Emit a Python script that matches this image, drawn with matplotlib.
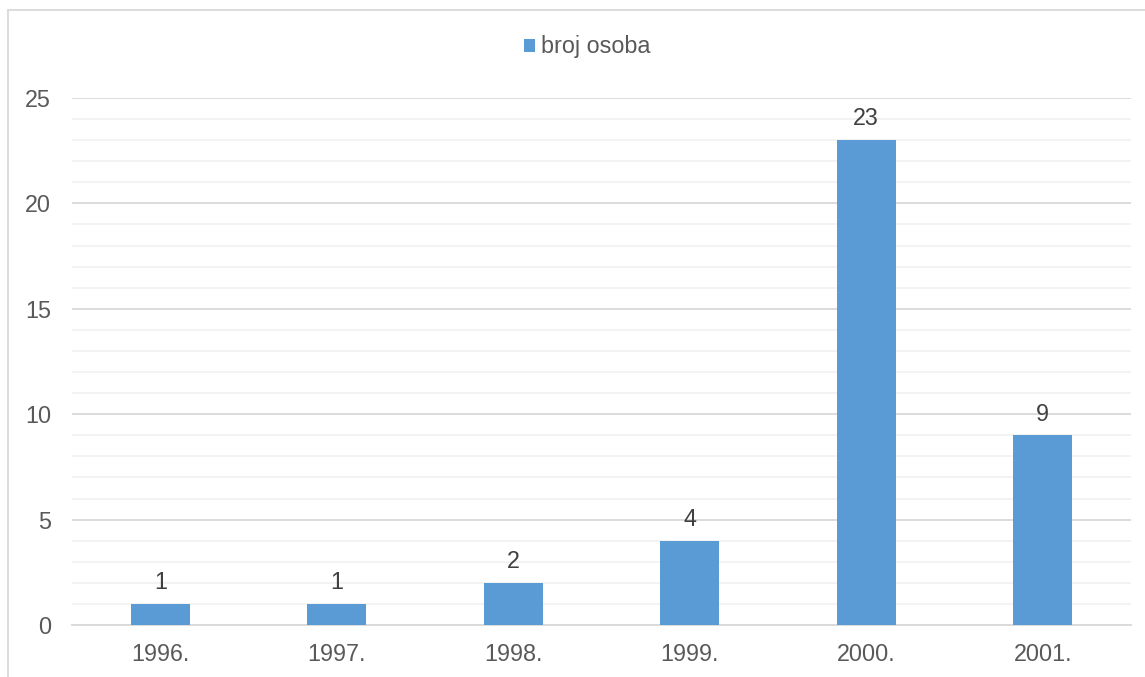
import numpy as np
import matplotlib.pyplot as plt
from matplotlib.patches import Rectangle
from matplotlib.ticker import MultipleLocator

# data
years = ['1996.', '1997.', '1998.', '1999.', '2000.', '2001.']
counts = [1, 1, 2, 4, 23, 9]
series_name = 'broj osoba'

plt.rcParams['font.family'] = ['Liberation Sans', 'DejaVu Sans']
TXT = '#595959'
BAR = '#5b9bd5'
FS = 16.8

W, H = 1145, 677
fig = plt.figure(figsize=(W / 100, H / 100), dpi=100)
ax = fig.add_axes([72 / W, 1 - 625 / H, (1131 - 72) / W, (625 - 98) / H])

x = np.arange(len(years))
bars = ax.bar(x, counts, width=0.334, color=BAR, label=series_name, zorder=3)

for xi, v in zip(x, counts):
    ax.annotate(str(v), (xi, v), xytext=(0, 7), textcoords='offset points',
                ha='center', va='bottom', fontsize=FS, color='#404040')

ax.set_xlim(-0.5, len(years) - 0.5)
ax.set_ylim(0, 25)
ax.yaxis.set_major_locator(MultipleLocator(5))
ax.yaxis.set_minor_locator(MultipleLocator(1))
ax.grid(axis='y', which='major', color='#d9d9d9', linewidth=1.3, zorder=0)
ax.grid(axis='y', which='minor', color='#f2f2f2', linewidth=1.3, zorder=0)
ax.set_axisbelow(True)

ax.set_xticks(x)
ax.set_xticklabels(years)
ax.tick_params(axis='x', length=0, pad=13, labelsize=FS, labelcolor=TXT)
ax.tick_params(axis='y', which='both', length=0, pad=15, labelsize=FS, labelcolor=TXT)

for s in ['top', 'right', 'left']:
    ax.spines[s].set_visible(False)
ax.spines['bottom'].set_color('#d9d9d9')
ax.spines['bottom'].set_linewidth(1.3)

leg = fig.legend(loc='center', bbox_to_anchor=(587 / W, 1 - 47 / H), frameon=False,
                 fontsize=FS, handlelength=0.5, handleheight=0.5, handletextpad=0.25)
for t in leg.get_texts():
    t.set_color(TXT)

# chart border
fig.patches.append(Rectangle((8 / W, -0.1), 1.2, 1.1 - 10 / H, transform=fig.transFigure,
                             fill=False, edgecolor='#d9d9d9', linewidth=1.3))

plt.savefig('out.png', dpi=100)
